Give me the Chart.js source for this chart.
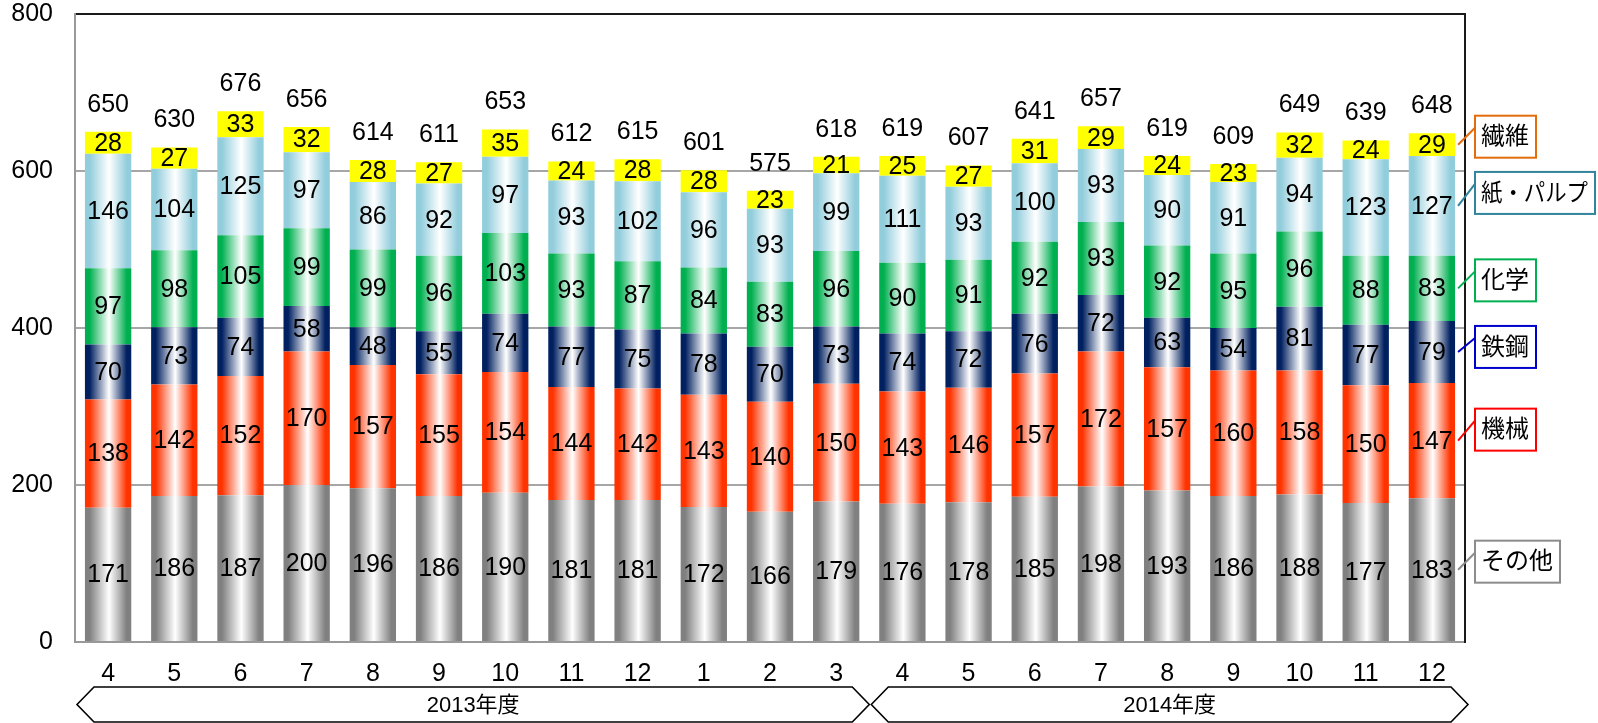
<!DOCTYPE html>
<html>
<head>
<meta charset="utf-8">
<script src="https://cdn.jsdelivr.net/npm/chart.js@4/dist/chart.umd.min.js"></script>
<style>
  html, body { margin: 0; padding: 0; background: #fff; }
  #wrap { width: 1598px; height: 723px; position: relative; }
</style>
</head>
<body>
<div id="wrap"><canvas id="c" width="1598" height="723"></canvas></div>
<script>
// Monthly values by sector, fiscal 2013 (Apr–Mar) and fiscal 2014 (Apr–Dec)
const months = ['4','5','6','7','8','9','10','11','12','1','2','3','4','5','6','7','8','9','10','11','12'];
const fiscalYears = ['2013年度', '2014年度'];
const fiscalYearMonths = [12, 9];

const other     = [171,186,187,200,196,186,190,181,181,172,166,179,176,178,185,198,193,186,188,177,183];
const machinery = [138,142,152,170,157,155,154,144,142,143,140,150,143,146,157,172,157,160,158,150,147];
const steel     = [70,73,74,58,48,55,74,77,75,78,70,73,74,72,76,72,63,54,81,77,79];
const chemical  = [97,98,105,99,99,96,103,93,87,84,83,96,90,91,92,93,92,95,96,88,83];
const paperPulp = [146,104,125,97,86,92,97,93,102,96,93,99,111,93,100,93,90,91,94,123,127];
const textile   = [28,27,33,32,28,27,35,24,28,28,23,21,25,27,31,29,24,23,32,24,29];
const totals    = [650,630,676,656,614,611,653,612,615,601,575,618,619,607,641,657,619,609,649,639,648];

const yTickValues = [0, 200, 400, 600, 800];

const seriesNames  = ['その他', '機械', '鉄鋼', '化学', '紙・パルプ', '繊維'];
const seriesValues = [other, machinery, steel, chemical, paperPulp, textile];
const seriesColors = ['#808080', '#FF3300', '#002060', '#00B050', '#92CDDC', '#FFFF00'];
const seriesShaded = [true, true, true, true, true, false];
const calloutColors = ['#8C8C8C', '#FF0000', '#0000CC', '#00B050', '#31849B', '#E46C0A'];
const calloutRise   = [17, 20, 14, 17, 22, 17];

const FONT = '"Liberation Sans", "Noto Sans CJK JP", sans-serif';
const BAR_PCT = 0.7;

// Horizontal "cylinder" shading for each bar: colour at the edges, white highlight near the middle
function cylinderFill(color, shaded) {
  if (!shaded) return color;
  return (ctx) => {
    const chart = ctx.chart;
    const xs = chart.scales.x;
    const area = chart.chartArea;
    if (!xs || !area || ctx.dataIndex === undefined) return color;
    const cx = xs.getPixelForValue(ctx.dataIndex);
    const w = (area.right - area.left) / months.length * BAR_PCT;
    if (!isFinite(cx) || !isFinite(w)) return color;
    const g = chart.ctx.createLinearGradient(cx - w / 2, 0, cx + w / 2, 0);
    g.addColorStop(0, color);
    g.addColorStop(0.1, color);
    g.addColorStop(0.52, '#FFFFFF');
    g.addColorStop(0.9, color);
    g.addColorStop(1, color);
    return g;
  };
}

const datasets = seriesNames.map((name, i) => ({
  label: name,
  data: seriesValues[i],
  backgroundColor: cylinderFill(seriesColors[i], seriesShaded[i]),
  borderWidth: 0,
  barPercentage: BAR_PCT,
  categoryPercentage: 1.0
}));

// Value labels inside each segment plus the stacked total above each bar
const valueLabels = {
  id: 'valueLabels',
  afterDatasetsDraw(chart) {
    const ctx = chart.ctx;
    ctx.save();
    ctx.fillStyle = '#000';
    ctx.font = '25px ' + FONT;
    ctx.textAlign = 'center';
    ctx.textBaseline = 'middle';
    chart.data.datasets.forEach((ds, i) => {
      const meta = chart.getDatasetMeta(i);
      meta.data.forEach((el, j) => {
        const cy = (el.y + el.base) / 2;
        ctx.fillText(String(ds.data[j]), el.x, cy + 1);
      });
    });
    const topMeta = chart.getDatasetMeta(chart.data.datasets.length - 1);
    topMeta.data.forEach((el, j) => {
      ctx.fillText(String(totals[j]), el.x, el.y - 27);
    });
    ctx.restore();
  }
};

// Right frame line, series callouts for the last bar, and fiscal-year brackets under the axis
const decorations = {
  id: 'decorations',
  afterDraw(chart) {
    const ctx = chart.ctx;
    const area = chart.chartArea;
    const xs = chart.scales.x;
    ctx.save();

    // right border of the plot frame
    ctx.strokeStyle = '#1a1a1a';
    ctx.lineWidth = 2;
    ctx.beginPath();
    ctx.moveTo(area.right, area.top - 1);
    ctx.lineTo(area.right, area.bottom + 1);
    ctx.stroke();

    // callout boxes naming each series, tied to the last bar
    const last = months.length - 1;
    ctx.font = '24px ' + FONT;
    ctx.textBaseline = 'middle';
    ctx.textAlign = 'left';
    chart.data.datasets.forEach((ds, i) => {
      const el = chart.getDatasetMeta(i).data[last];
      const cy = (el.y + el.base) / 2;
      const x1 = el.x + el.width / 2 + 3;
      const bx = area.right + 10;
      const ly = cy - calloutRise[i];
      const top = ly - 12;
      const h = 42;
      const maxText = chart.width - bx - 3 - 13;
      const tw = Math.min(ctx.measureText(ds.label).width, maxText);
      const w = tw + 13;
      ctx.strokeStyle = calloutColors[i];
      ctx.lineWidth = 2;
      ctx.beginPath();
      ctx.moveTo(x1, cy);
      ctx.lineTo(bx, ly);
      ctx.stroke();
      ctx.fillStyle = '#fff';
      ctx.fillRect(bx, top, w, h);
      ctx.strokeRect(bx, top, w, h);
      ctx.fillStyle = '#000';
      ctx.fillText(ds.label, bx + 6, top + h / 2 + 1, tw);
    });

    // fiscal-year brackets
    const catW = (area.right - area.left) / months.length;
    const yTop = area.bottom + 45;
    const yBot = area.bottom + 80;
    const yMid = (yTop + yBot) / 2;
    const d = 17;
    let startIdx = 0;
    ctx.lineWidth = 1.6;
    ctx.strokeStyle = '#000';
    fiscalYears.forEach((label, k) => {
      const x0 = xs.getPixelForValue(startIdx) - catW / 2 + 2;
      const endIdx = startIdx + fiscalYearMonths[k] - 1;
      const x1 = xs.getPixelForValue(endIdx) + catW / 2 + (k === fiscalYears.length - 1 ? 3 : 0);
      ctx.beginPath();
      ctx.moveTo(x0, yMid);
      ctx.lineTo(x0 + d, yTop);
      ctx.lineTo(x1 - d, yTop);
      ctx.lineTo(x1, yMid);
      ctx.lineTo(x1 - d, yBot);
      ctx.lineTo(x0 + d, yBot);
      ctx.closePath();
      ctx.stroke();
      ctx.fillStyle = '#000';
      ctx.font = '22px ' + FONT;
      ctx.textAlign = 'center';
      ctx.fillText(label, (x0 + x1) / 2, yMid + 1);
      startIdx = endIdx + 1;
    });
    ctx.restore();
  }
};

new Chart(document.getElementById('c'), {
  type: 'bar',
  data: { labels: months, datasets },
  options: {
    responsive: false,
    devicePixelRatio: 1,
    animation: false,
    layout: { padding: { left: 0, right: 133, top: 14, bottom: 0 } },
    plugins: {
      legend: { display: false },
      tooltip: { enabled: false },
      title: { display: false }
    },
    scales: {
      x: {
        stacked: true,
        offset: true,
        grid: { display: false, drawTicks: false },
        border: { display: true, color: '#999999', width: 2 },
        ticks: {
          color: '#000',
          font: { family: FONT, size: 25 },
          padding: 17,
          maxRotation: 0,
          autoSkip: false
        },
        afterFit(scale) {
          scale.height = 81;
          scale.paddingLeft = 0;
          scale.paddingRight = 0;
        }
      },
      y: {
        stacked: true,
        min: 0,
        max: 800,
        afterBuildTicks(scale) { scale.ticks = yTickValues.map(v => ({ value: v })); },
        grid: {
          drawTicks: false,
          lineWidth: 2,
          color: (c) => (c.tick && c.tick.value === 800 ? '#1a1a1a' : (c.tick && c.tick.value === 0 ? 'rgba(0,0,0,0)' : '#A6A6A6'))
        },
        border: { display: true, color: '#999999', width: 2 },
        ticks: {
          color: '#000',
          font: { family: FONT, size: 25 },
          padding: 22
        },
        afterFit(scale) {
          scale.width = 75;
          scale.paddingTop = 0;
          scale.paddingBottom = 0;
        }
      }
    }
  },
  plugins: [valueLabels, decorations]
});
</script>
</body>
</html>
